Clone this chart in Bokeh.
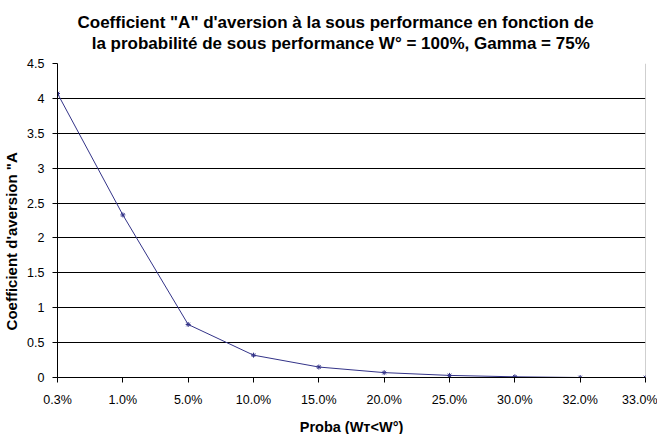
from bokeh.plotting import figure
from bokeh.models import Title, FixedTicker, Range1d, Span
from bokeh.embed import file_html
from bokeh.resources import INLINE

categories = ["0.3%", "1.0%", "5.0%", "10.0%", "15.0%", "20.0%", "25.0%", "30.0%", "32.0%", "33.0%"]
values = [4.07, 2.33, 0.76, 0.32, 0.15, 0.07, 0.03, 0.01, 0.0, 0.0]
y_ticks = [0, 0.5, 1, 1.5, 2, 2.5, 3, 3.5, 4, 4.5]
y_labels = ["0", "0.5", "1", "1.5", "2", "2.5", "3", "3.5", "4", "4.5"]

title1 = "Coefficient \"A\" d'aversion à la sous performance en fonction de"
title2 = "la probabilité de sous performance W° = 100%, Gamma = 75%"

x = list(range(len(categories)))

p = figure(frame_width=588, frame_height=314, output_backend="svg", toolbar_location=None,
           x_range=Range1d(0, len(categories) - 1), y_range=Range1d(0, 4.5),
           min_border_left=50, min_border_right=12, min_border_top=10, min_border_bottom=49)
p.title = None
p.add_layout(Title(text=title1 + "\n" + "\u00a0\u00a0\u00a0" + title2, align="left", text_font="Liberation Sans",
                   text_font_size="17px", text_font_style="bold", text_color="black",
                   offset=20, standoff=20, text_line_height=1.15), "above")

p.outline_line_color = None
p.background_fill_color = "white"
p.border_fill_color = "white"

p.xaxis.ticker = FixedTicker(ticks=x)
p.xaxis.major_label_overrides = {i: c for i, c in zip(x, categories)}
p.yaxis.ticker = FixedTicker(ticks=y_ticks)
p.yaxis.major_label_overrides = {t: l for t, l in zip(y_ticks, y_labels)}

for ax in (p.xaxis[0], p.yaxis[0]):
    ax.axis_line_color = "black"
    ax.major_tick_line_color = "black"
    ax.minor_tick_line_color = None
    ax.major_tick_in = 0
    ax.major_tick_out = 5
    ax.major_label_text_font = "Liberation Sans"
    ax.major_label_text_font_size = "12.5px"
    ax.major_label_text_color = "black"
    ax.axis_label_text_font = "Liberation Sans"
    ax.axis_label_text_font_style = "bold"
    ax.axis_label_text_color = "black"

p.xaxis.axis_label = "Proba (Wᴛ<W°)"
p.yaxis.axis_label = "Coefficient d'aversion \"A" + "\u00a0" * 10
p.xaxis.axis_label_text_font_size = "14.5px"
p.yaxis.axis_label_text_font_size = "15px"
p.xaxis.major_label_standoff = 10
p.yaxis.major_label_standoff = 8
p.xaxis.axis_label_standoff = 9
p.yaxis.axis_label_standoff = 4

p.xgrid.grid_line_color = None
p.ygrid.grid_line_color = "black"
p.ygrid.grid_line_width = 1

p.add_layout(Span(location=len(categories) - 1, dimension="height", line_color="#a0a0a0", line_width=1))

p.line(x, values, line_color="#333388", line_width=1)
p.scatter(x, values, marker="asterisk", size=5, line_color="#333388", line_width=1)

open("out.html", "w").write(file_html(p, INLINE))
